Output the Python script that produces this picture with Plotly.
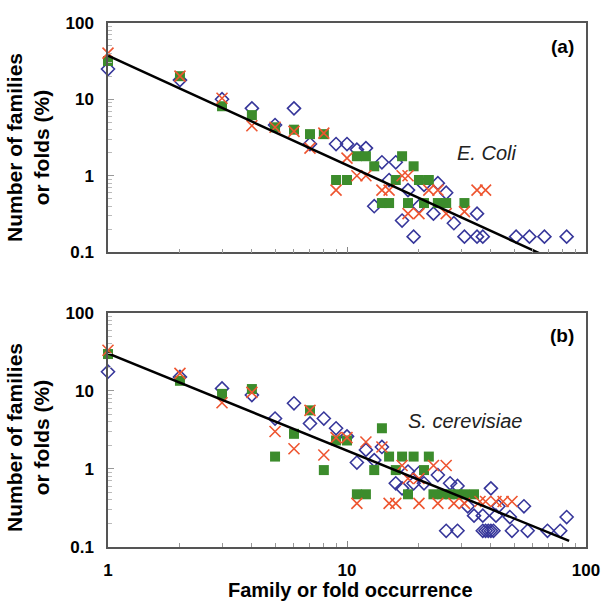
import plotly.graph_objects as go

# ---------------- data ----------------
# Panel (a): E. Coli
blue_a_x = [1, 2, 3, 4, 5, 6, 7, 9, 10, 11, 12, 13, 14, 15, 16, 17, 18, 19, 20, 21, 23, 24, 26, 28, 31, 35, 35, 37, 51, 58, 67, 83]
blue_a_y = [24.8, 17.8, 10, 7.6, 4.6, 7.6, 2.6, 2.6, 2.6, 2.2, 2.3, 0.40, 1.5, 0.88, 1.5, 0.26, 0.65, 0.16, 0.40, 0.76, 0.32, 0.8, 0.6, 0.24, 0.16, 0.32, 0.16, 0.16, 0.16, 0.16, 0.16, 0.16]

green_a_x = [1, 2, 3, 4, 5, 6, 7, 8, 9, 10, 11, 12, 13, 14, 15, 16, 17, 18, 19, 20, 21, 22, 24, 26, 31]
green_a_y = [31.6, 20, 8.1, 6.2, 4.3, 4.0, 3.5, 3.5, 0.88, 0.88, 1.8, 1.8, 1.33, 0.44, 0.44, 0.88, 1.8, 0.44, 1.33, 0.88, 0.44, 0.88, 0.44, 0.44, 0.44]

red_a_x = [1, 2, 3, 4, 5, 6, 7, 8, 9, 10, 11, 12, 14, 15, 17, 18, 18, 20, 22, 24, 26, 31, 35, 38]
red_a_y = [40, 20, 10.3, 4.5, 4.3, 3.8, 2.3, 3.6, 0.65, 1.7, 1.0, 1.0, 0.65, 0.65, 1.0, 1.0, 0.32, 0.32, 0.65, 0.65, 0.32, 0.34, 0.65, 0.65]

fit_a_x = [1, 64]
fit_a_y = [37, 0.097]

# Panel (b): S. cerevisiae
blue_b_x = [1, 2, 3, 4, 5, 6, 7, 8, 9, 10, 11, 12, 13, 14, 16, 17, 18, 19, 20, 21, 24, 26, 27, 29, 29, 32, 34, 37, 37, 38, 39, 40, 40, 41, 42, 43, 48, 49, 55, 57, 69, 78, 83]
blue_b_y = [17.5, 15, 10.7, 8.8, 4.4, 6.9, 3.8, 4.4, 3.3, 2.6, 1.2, 1.74, 1.29, 1.9, 0.65, 0.56, 0.92, 0.65, 0.88, 0.65, 0.83, 0.16, 0.65, 0.6, 0.16, 0.33, 0.25, 0.25, 0.16, 0.16, 0.16, 0.16, 0.56, 0.16, 0.25, 0.33, 0.24, 0.16, 0.33, 0.16, 0.16, 0.16, 0.24]

green_b_x = [1, 2, 3, 4, 5, 6, 7, 8, 9, 10, 11, 12, 13, 14, 15, 16, 17, 18, 19, 21, 22, 23, 25, 27, 29, 31, 34]
green_b_y = [29.5, 13.4, 9.1, 10.5, 1.43, 2.8, 5.6, 0.96, 2.3, 2.3, 0.47, 0.47, 0.96, 3.3, 1.43, 0.96, 1.43, 0.47, 1.43, 0.96, 1.43, 0.47, 0.47, 0.47, 0.47, 0.47, 0.47]

red_b_x = [1, 2, 3, 4, 5, 6, 7, 8, 9, 10, 11, 12, 14, 15, 16, 17, 18, 20, 20, 23, 24, 26, 28, 31, 36, 38, 42, 45, 49]
red_b_y = [33, 16.7, 7.0, 9.5, 3.0, 1.8, 5.6, 1.5, 2.5, 2.5, 0.36, 2.2, 1.9, 0.36, 0.36, 1.1, 0.75, 0.75, 0.36, 1.1, 0.36, 1.1, 0.36, 0.36, 0.38, 0.38, 0.38, 0.38, 0.38]

fit_b_x = [1, 85]
fit_b_y = [30, 0.119]

x_tick_vals = [1, 10, 100]
x_tick_text = ["1", "10", "100"]
y_tick_vals = [0.1, 1, 10, 100]
y_tick_text = ["0.1", "1", "10", "100"]
x_minor = [2, 3, 4, 5, 6, 7, 8, 9, 20, 30, 40, 50, 60, 70, 80, 90]
y_minor = [0.2, 0.3, 0.4, 0.5, 0.6, 0.7, 0.8, 0.9, 2, 3, 4, 5, 6, 7, 8, 9, 20, 30, 40, 50, 60, 70, 80, 90]

# ---------------- styles ----------------
BLUE = "#36369a"
GREEN = "#3c8c2c"
RED = "#ee5530"
FONT = "Liberation Sans, Arial, sans-serif"

fig = go.Figure()

def add_panel(xa, ya, bx, by, gx, gy, rx, ry, fx, fy):
    fig.add_trace(go.Scatter(x=bx, y=by, mode="markers", xaxis=xa, yaxis=ya,
                             marker=dict(symbol="diamond-open", size=10, color=BLUE,
                                         line=dict(width=1.6, color=BLUE)),
                             showlegend=False, cliponaxis=False))
    fig.add_trace(go.Scatter(x=gx, y=gy, mode="markers", xaxis=xa, yaxis=ya,
                             marker=dict(symbol="square", size=10, color=GREEN,
                                         line=dict(width=0)),
                             showlegend=False, cliponaxis=False))
    fig.add_trace(go.Scatter(x=rx, y=ry, mode="markers", xaxis=xa, yaxis=ya,
                             marker=dict(symbol="x-thin-open", size=11, color=RED,
                                         line=dict(width=1.6, color=RED)),
                             showlegend=False, cliponaxis=False))
    fig.add_trace(go.Scatter(x=fx, y=fy, mode="lines", xaxis=xa, yaxis=ya,
                             line=dict(color="black", width=2.5),
                             showlegend=False))

add_panel("x", "y", blue_a_x, blue_a_y, green_a_x, green_a_y, red_a_x, red_a_y, fit_a_x, fit_a_y)
add_panel("x2", "y2", blue_b_x, blue_b_y, green_b_x, green_b_y, red_b_x, red_b_y, fit_b_x, fit_b_y)

W = 601.0
def px(v):
    return v / W

def py(v):
    return 1 - v / W

xdom = [px(108), px(586)]

def xaxis(show_labels):
    return dict(type="log", range=[0, 2], domain=xdom, automargin=False,
                tickvals=x_tick_vals, ticktext=x_tick_text,
                showticklabels=show_labels, ticklabeloverflow="allow",
                ticks="inside", ticklen=6, tickcolor="#888", tickwidth=1,
                minor=dict(tickvals=x_minor, ticks="inside", ticklen=4, tickcolor="#999", tickwidth=1),
                showgrid=False, zeroline=False,
                showline=True, mirror=True, linecolor="#555", linewidth=1.5,
                tickfont=dict(family=FONT, size=17, color="black", weight="bold"),
                ticklabelstandoff=7)

def yaxis(dom, anchor):
    return dict(type="log", range=[-1, 2], domain=dom, anchor=anchor, automargin=False,
                tickvals=y_tick_vals, ticktext=y_tick_text, ticklabeloverflow="allow",
                ticks="inside", ticklen=6, tickcolor="#999", tickwidth=1,
                minor=dict(tickvals=y_minor, ticks="inside", ticklen=4, tickcolor="#bbb", tickwidth=1),
                showgrid=False, zeroline=False,
                showline=True, mirror=True, linecolor="#555", linewidth=1.5,
                tickfont=dict(family=FONT, size=17, color="black", weight="bold"),
                ticklabelstandoff=9)

ydom_a = [py(252.3), py(22.7)]
ydom_b = [py(546.7), py(312.7)]

xa = xaxis(False)
xa["anchor"] = "y"
xb = xaxis(True)
xb["anchor"] = "y2"

fig.update_layout(
    width=601, height=601,
    margin=dict(l=0, r=0, t=0, b=0, pad=0, autoexpand=False),
    paper_bgcolor="white", plot_bgcolor="white",
    xaxis=xa, yaxis=yaxis(ydom_a, "x"),
    xaxis2=xb, yaxis2=yaxis(ydom_b, "x2"),
    showlegend=False,
)

ann = []
ytitle = "Number of families<br>or folds (%)"
for yc in (148, 438):
    ann.append(dict(text=ytitle, x=px(28), y=py(yc), xref="paper", yref="paper",
                    showarrow=False, textangle=-90, xanchor="center", yanchor="middle",
                    font=dict(family=FONT, size=21, color="black", weight="bold")))
ann.append(dict(text="Family or fold occurrence", x=px(350), y=py(590), xref="paper", yref="paper",
                showarrow=False, xanchor="center", yanchor="middle",
                font=dict(family=FONT, size=20, color="black", weight="bold")))
ann.append(dict(text="(a)", x=px(562), y=py(46), xref="paper", yref="paper",
                showarrow=False, xanchor="center", yanchor="middle",
                font=dict(family=FONT, size=19, color="black", weight="bold")))
ann.append(dict(text="(b)", x=px(562), y=py(336), xref="paper", yref="paper",
                showarrow=False, xanchor="center", yanchor="middle",
                font=dict(family=FONT, size=19, color="black", weight="bold")))
ann.append(dict(text="<i>E. Coli</i>", x=px(487), y=py(153), xref="paper", yref="paper",
                showarrow=False, xanchor="center", yanchor="middle",
                font=dict(family=FONT, size=20, color="#222")))
ann.append(dict(text="<i>S. cerevisiae</i>", x=px(465), y=py(421), xref="paper", yref="paper",
                showarrow=False, xanchor="center", yanchor="middle",
                font=dict(family=FONT, size=20, color="#222")))
fig.update_layout(annotations=ann)

fig.write_html("out.html", config={"displayModeBar": False},
               post_script="document.body.style.margin='0px';document.documentElement.style.overflow='hidden';")
